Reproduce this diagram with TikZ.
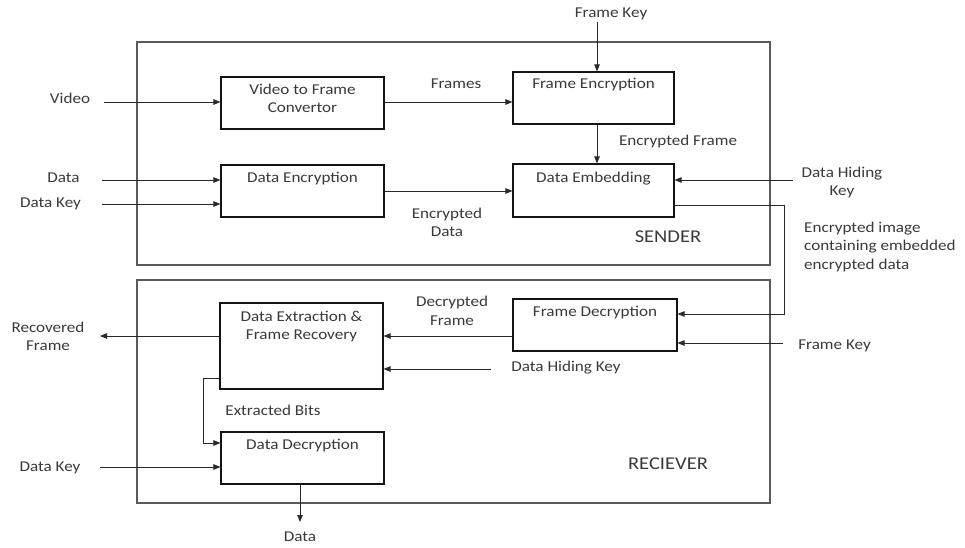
\documentclass[tikz,border=0pt]{standalone}
\usepackage{fontspec}
\setmainfont{Carlito}[FakeStretch=1.14]
\usetikzlibrary{arrows.meta,calc}
\definecolor{txt}{HTML}{3A3A3A}
\definecolor{ln}{HTML}{2A2A2A}
\definecolor{frm}{HTML}{5A5A5A}
\begin{document}
\begin{tikzpicture}[x=1pt,y=-1pt,
  blk/.style={draw=black!92, line width=1.1pt, inner sep=0pt, minimum width=163pt, minimum height=52pt},
  outerbox/.style={draw=frm, line width=1.3pt, inner sep=0pt, minimum width=633pt, minimum height=223pt},
  lbl/.style={inner sep=0pt, text=txt, align=center, font=\fontsize{15}{18.5}\selectfont},
  biglbl/.style={inner sep=0pt, text=txt, font=\fontsize{18}{21}\selectfont},
  arr/.style={draw=ln, line width=0.9pt, -{Triangle[length=7pt,width=5.5pt]}}]
\path[use as bounding box, fill=white] (0,0) rectangle (965,547);

% outer frames
\node[outerbox] (sender) at (453.5,153.5) {};
\node[outerbox] (receiver) at (453.5,391.5) {};
\node[biglbl] (sendert) at (668,237) {SENDER};
\node[biglbl] (receivert) at (668,464) {RECIEVER};

% blocks
\node[blk] (vfc) at (302.5,103) {};
\node[blk] (denc) at (302.5,191) {};
\node[blk, minimum width=161pt] (fenc) at (593.5,98) {};
\node[blk, minimum width=161pt, minimum height=53pt] (demb) at (593.5,190.5) {};
\node[blk, minimum width=164pt] (fdec) at (595,325) {};
\node[blk, minimum height=86pt] (dext) at (301.5,346) {};
\node[blk] (ddec) at (302.5,458) {};

% block texts
\node[lbl] (vfct) at (302.5,98.5) {Video to Frame\\Convertor};
\node[lbl] (denct) at (302.5,179) {Data Encryption};
\node[lbl] (fenct) at (593.5,85) {Frame Encryption};
\node[lbl] (dembt) at (593.5,179) {Data Embedding};
\node[lbl] (fdect) at (595,313) {Frame Decryption};
\node[lbl] (dextt) at (301.5,326.5) {Data Extraction \&\\Frame Recovery};
\node[lbl] (ddect) at (302.5,446) {Data Decryption};

% outside / connector labels
\node[lbl] (videol) at (70,98) {Video};
\node[lbl] (framesl) at (456,84) {Frames};
\node[lbl] (fkeyl) at (611,14) {Frame Key};
\node[lbl] (encfl) at (678,141) {Encrypted Frame};
\node[lbl] (datal) at (63.5,178) {Data};
\node[lbl] (dkeyl) at (50.5,204) {Data Key};
\node[lbl] (encdl) at (447,222.5) {Encrypted\\Data};
\node[lbl] (dhkl) at (842,182.5) {Data Hiding\\Key};
\node[lbl, align=left, anchor=west] (eiml) at (804,246.5) {Encrypted image\\containing embedded\\encrypted data};
\node[lbl] (decfl) at (452,311) {Decrypted\\Frame};
\node[lbl] (fkey2l) at (834.5,346) {Frame Key};
\node[lbl] (dhk2l) at (566,368) {Data Hiding Key};
\node[lbl] (recl) at (48,336.5) {Recovered\\Frame};
\node[lbl] (ebl) at (273,410) {Extracted Bits};
\node[lbl] (dkey2l) at (50,468) {Data Key};
\node[lbl] (doutl) at (300,537) {Data};

% free ends
\coordinate (vs) at (104,102);
\coordinate (fks) at (597,22);
\coordinate (ds) at (102,180);
\coordinate (dks) at (102,204);
\coordinate (dhs) at (793,180);
\coordinate (bend) at (784,314);
\coordinate (fk2) at (783,343);
\coordinate (dh2) at (491,369);
\coordinate (rf) at (100,336);
\coordinate (eb) at (203,378);
\coordinate (dk2) at (100,467);
\coordinate (dout) at (300,522);

% sender connectors
\draw[arr] (vs) -- (vs -| vfc.west);
\draw[arr] ([yshift=1pt]vfc.east) coordinate (fr) -- (fr -| fenc.west);
\draw[arr] (fks) -- (fks |- fenc.north);
\draw[arr] (fenc.south -| fks) -- (demb.north -| fks);
\draw[arr] (ds) -- (ds -| denc.west);
\draw[arr] (dks) -- (dks -| denc.west);
\draw[arr] (denc.east) -- (denc.east -| demb.west);
\draw[arr] (dhs) -- (dhs -| demb.east);
\draw[arr] ([yshift=-14.5pt]demb.east) -| (bend) -- (bend -| fdec.east);

% receiver connectors
\draw[arr] (fk2) -- (fk2 -| fdec.east);
\draw[arr] ([yshift=-11pt]fdec.west) coordinate (df) -- (df -| dext.east);
\draw[arr] (dh2) -- (dh2 -| dext.east);
\draw[arr] ([yshift=10pt]dext.west) -- (rf);
\draw[arr] ([yshift=-32pt]dext.west) -- (eb) |- ([yshift=15pt]ddec.west);
\draw[arr] (dk2) -- (dk2 -| ddec.west);
\draw[arr] (ddec.south -| dout) -- (dout);
\end{tikzpicture}
\end{document}
